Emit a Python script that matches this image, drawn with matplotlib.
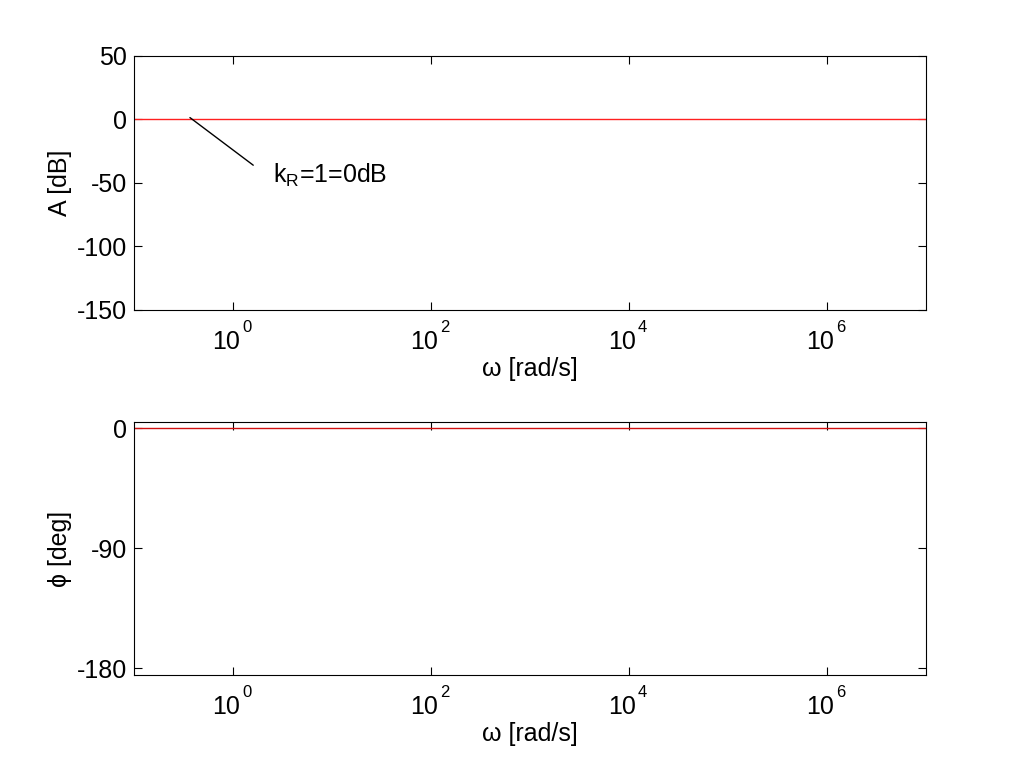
import matplotlib
matplotlib.use("Agg")
import matplotlib.pyplot as plt
from matplotlib.ticker import FixedLocator, NullLocator
from matplotlib.transforms import ScaledTranslation

plt.rcParams['font.family'] = ['Liberation Sans', 'DejaVu Sans']
plt.rcParams['mathtext.fontset'] = 'custom'
plt.rcParams['mathtext.rm'] = 'Liberation Sans'
plt.rcParams['mathtext.it'] = 'Liberation Sans'
plt.rcParams['mathtext.default'] = 'regular'
plt.rcParams['axes.unicode_minus'] = False

# Data
omega = [0.1, 1e7]
amp_db = [0, 0]
phase_deg = [0, 0]
xticks = [1e0, 1e2, 1e4, 1e6]
xtick_exponents = ['0', '2', '4', '6']
amp_ticks = [50, 0, -50, -100, -150]
phase_ticks = [0, -90, -180]

fig = plt.figure(figsize=(10.24, 7.68), dpi=100)
ax1 = fig.add_axes([0.1309, 0.5964, 0.7734, 0.3307])
ax2 = fig.add_axes([0.1309, 0.1211, 0.7734, 0.3294])

fs = 18
for ax in (ax1, ax2):
    ax.set_xscale('log')
    ax.set_xlim(0.1, 1e7)
    ax.xaxis.set_major_locator(FixedLocator(xticks))
    ax.xaxis.set_minor_locator(NullLocator())
    ax.set_xticklabels([''] * len(xticks))
    ax.tick_params(direction='in', top=True, right=True, length=6, width=0.8,
                   labelsize=fs)
    ax.tick_params(axis='y', pad=5)
    trans = ax.get_xaxis_transform()
    for xt, ex in zip(xticks, xtick_exponents):
        ax.text(xt, 0, '10', fontsize=fs, ha='right', va='baseline',
                transform=trans + ScaledTranslation(7 / 100, -39 / 100, fig.dpi_scale_trans))
        ax.text(xt, 0, ex, fontsize=12, ha='left', va='baseline',
                transform=trans + ScaledTranslation(9 / 100, -22 / 100, fig.dpi_scale_trans))
    ax.set_xlabel('ω [rad/s]', fontsize=fs)
    ax.xaxis.label.set_va('center')
    for s in ax.spines.values():
        s.set_linewidth(0.8)

ax1.xaxis.set_label_coords(0.5, -59 / 254)
ax2.xaxis.set_label_coords(0.5, -59 / 253)

ax1.plot(omega, amp_db, color='#ff2020', lw=1)
ax1.set_ylim(-150, 50)
ax1.set_yticks(amp_ticks)
ax1.set_ylabel('A [dB]', fontsize=fs)
ax1.yaxis.label.set_va('center')
ax1.yaxis.set_label_coords(-74 / 792, 0.5)
ax1.annotate('', xy=(0.367, 1.5), xytext=(1.6, -36),
             arrowprops=dict(arrowstyle='-', color='black', lw=1,
                             shrinkA=0, shrinkB=0))
ax1.text(2.54, -44, r'k$_R$=1=0dB', fontsize=fs, va='center', ha='left')

ax2.plot(omega, phase_deg, color='#d01010', lw=1)
ax2.set_ylim(-185, 4.5)
ax2.set_yticks(phase_ticks)
ax2.set_ylabel('ϕ [deg]', fontsize=fs)
ax2.yaxis.label.set_va('center')
ax2.yaxis.set_label_coords(-74 / 792, 0.5)

fig.savefig('out.png', dpi=100)
